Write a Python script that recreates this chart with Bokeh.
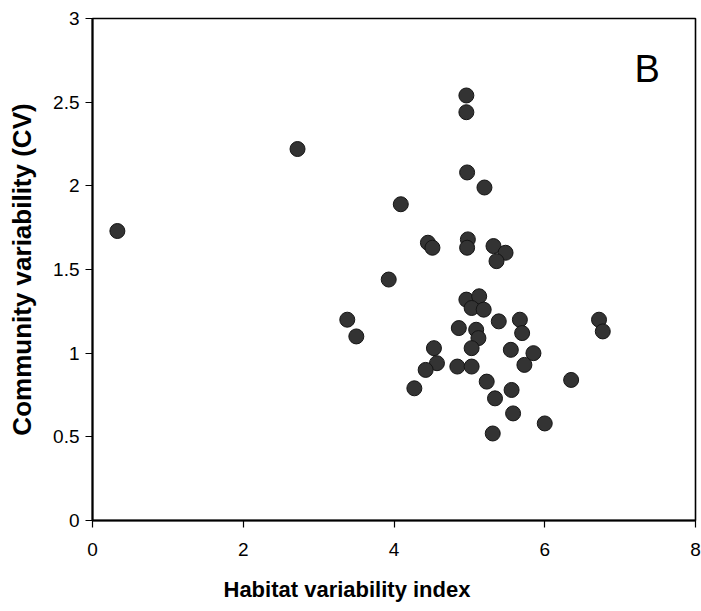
from bokeh.plotting import figure
from bokeh.models import FixedTicker, Label, ColumnDataSource, Range1d, Title
from bokeh.embed import file_html
from bokeh.resources import INLINE

# Habitat variability index (x) vs community variability, CV (y)
habitat_index = [
    0.33, 2.72, 4.96, 4.96, 4.97, 5.20, 4.09, 4.45, 4.51, 4.98,
    4.97, 5.32, 5.48, 5.36, 3.93, 3.38, 3.50, 4.96, 5.13, 5.03,
    5.19, 5.39, 5.67, 5.70, 4.86, 5.09, 5.12, 5.03, 4.53, 4.57,
    4.42, 4.84, 5.03, 5.55, 5.85, 5.73, 4.27, 5.23, 5.34, 5.56,
    5.58, 6.00, 5.31, 6.72, 6.77, 6.35,
]
community_cv = [
    1.73, 2.22, 2.54, 2.44, 2.08, 1.99, 1.89, 1.66, 1.63, 1.68,
    1.63, 1.64, 1.60, 1.55, 1.44, 1.20, 1.10, 1.32, 1.34, 1.27,
    1.26, 1.19, 1.20, 1.12, 1.15, 1.14, 1.09, 1.03, 1.03, 0.94,
    0.90, 0.92, 0.92, 1.02, 1.00, 0.93, 0.79, 0.83, 0.73, 0.78,
    0.64, 0.58, 0.52, 1.20, 1.13, 0.84,
]

x_ticks = [0, 2, 4, 6, 8]
y_ticks = [0, 0.5, 1, 1.5, 2, 2.5, 3]
y_tick_labels = {0: "0", 0.5: "0.5", 1: "1", 1.5: "1.5", 2: "2", 2.5: "2.5", 3: "3"}

FONT = "Liberation Sans"

p = figure(
    frame_width=603, frame_height=502,
    min_border_left=92, min_border_right=6, min_border_top=18, min_border_bottom=91,
    x_range=Range1d(0, 8), y_range=Range1d(0, 3),
    output_backend="svg", toolbar_location=None,
)
p.background_fill_color = "white"
p.border_fill_color = "white"
p.outline_line_color = "black"
p.outline_line_width = 1.6
p.xgrid.visible = False
p.ygrid.visible = False

src = ColumnDataSource(dict(x=habitat_index, y=community_cv))
p.scatter("x", "y", source=src, marker="circle", size=15,
          fill_color="#333333", line_color="#151515", line_width=1)

for ax in (p.xaxis[0], p.yaxis[0]):
    ax.axis_line_color = "black"
    ax.axis_line_width = 2
    ax.major_tick_line_color = "black"
    ax.major_tick_line_width = 1.2
    ax.major_tick_out = 7
    ax.major_tick_in = 0
    ax.minor_tick_line_color = None
    ax.major_label_text_font = FONT
    ax.major_label_text_font_size = "19px"
    ax.major_label_text_color = "black"
    ax.axis_label_text_font = FONT
    ax.axis_label_text_font_style = "bold"
    ax.axis_label_text_color = "black"

p.xaxis.ticker = FixedTicker(ticks=x_ticks)
p.yaxis.ticker = FixedTicker(ticks=y_ticks)
p.yaxis.major_label_overrides = y_tick_labels
p.xaxis.major_label_standoff = 15
p.yaxis.major_label_standoff = 6

p.yaxis.axis_label = "Community variability (CV)"
p.yaxis.axis_label_text_font_size = "26px"
p.yaxis.axis_label_standoff = 13

# x-axis title, set a little left of the frame centre
p.add_layout(Title(text="Habitat variability index", align="left", offset=131,
                   text_font=FONT, text_font_style="bold", text_font_size="22px",
                   text_color="black", standoff=32), "below")

p.add_layout(Label(x=7.36, y=2.70, text="B", text_font=FONT,
                   text_font_size="38px", text_color="black",
                   text_align="center", text_baseline="middle"))

open("out.html", "w").write(file_html(p, INLINE))
